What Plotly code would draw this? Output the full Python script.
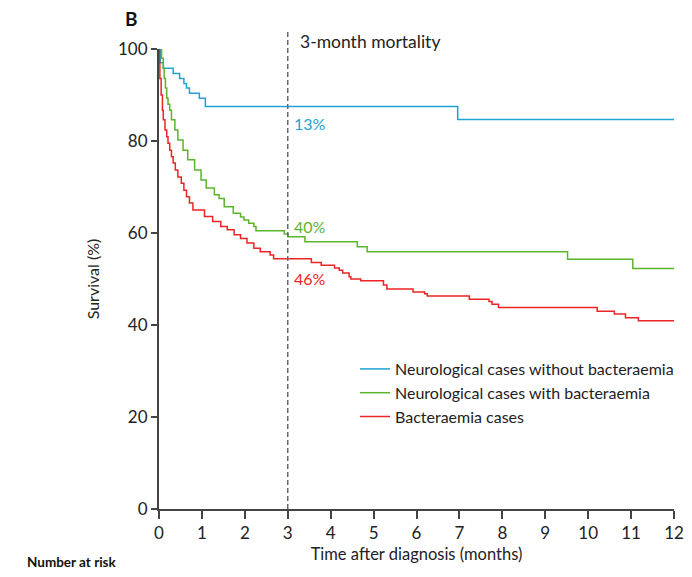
import plotly.graph_objects as go

# ---- data ----
blue_t = [0, 0.03, 0.10, 0.33, 0.48, 0.58, 0.64, 0.71, 0.94, 1.08, 6.96, 12]
blue_s = [100, 97.0, 95.8, 94.7, 93.6, 92.5, 91.5, 90.4, 89.3, 87.5, 84.7, 84.7]

green_t = [0, 0.06, 0.10, 0.12, 0.15, 0.18, 0.21, 0.25, 0.29, 0.37, 0.44, 0.56, 0.67,
           0.83, 0.98, 1.10, 1.29, 1.40, 1.52, 1.73, 1.90, 1.98, 2.09, 2.21, 2.26,
           2.92, 3.01, 3.40, 4.62, 4.85, 9.52, 11.04, 12]
green_s = [100, 98.0, 95.8, 93.6, 91.5, 89.3, 88.0, 86.7, 84.6, 82.4, 80.2, 78.0, 75.9,
           73.7, 71.5, 69.8, 68.3, 67.5, 65.7, 64.3, 63.5, 62.8, 62.1, 61.4, 60.5,
           59.8, 59.2, 58.1, 57.0, 55.9, 54.3, 52.3, 52.3]

red_t = [0, 0.01, 0.02, 0.05, 0.08, 0.10, 0.14, 0.18, 0.21, 0.25, 0.29, 0.33, 0.38,
         0.44, 0.52, 0.58, 0.64, 0.71, 0.79, 1.06, 1.25, 1.44, 1.59, 1.75, 1.90,
         2.05, 2.21, 2.36, 2.59, 2.67, 3.55, 3.78, 4.09, 4.20, 4.28, 4.43, 4.47,
         4.70, 5.23, 5.31, 5.92, 6.19, 6.25, 7.23, 7.69, 7.76, 7.91, 10.21, 10.61,
         10.87, 11.17, 12]
red_s = [100, 97.0, 93.6, 90.0, 86.7, 84.6, 82.4, 80.9, 79.5, 78.0, 76.6, 75.2, 73.7,
         72.2, 70.8, 69.3, 67.9, 66.5, 65.0, 63.6, 62.5, 61.4, 60.7, 59.6, 58.8,
         57.8, 56.7, 55.9, 55.2, 54.4, 53.6, 53.0, 52.4, 51.9, 51.3, 50.5, 50.0,
         49.6, 48.7, 47.8, 47.2, 46.8, 46.3, 45.6, 45.1, 44.5, 43.8, 43.0, 42.4,
         41.6, 40.9, 40.9]

series_names = ["Neurological cases without bacteraemia",
                "Neurological cases with bacteraemia",
                "Bacteraemia cases"]
series_colors = ["#22a2d4", "#5bb52b", "#ee2424"]
mortality_labels = ["13%", "40%", "46%"]
mortality_label_y = [83.9, 61.5, 50.2]

x_ticks = list(range(0, 13))
y_ticks = [0, 20, 40, 60, 80, 100]

FONT = "Lato"

# page body has an 8px default margin; the visible width ends near x=684
PW, PH = 515, 460          # plot area in pixels
PX0, PY1 = 159, 509        # window pixel of plot left / bottom
FIG_W, FIG_H = 684, 561


def px_x(wx):
    return (wx - PX0) / PW


def px_y(wy):
    return (PY1 - wy) / PH


fig = go.Figure()
for t, s, name, col in zip([blue_t, green_t, red_t], [blue_s, green_s, red_s],
                           series_names, series_colors):
    fig.add_trace(go.Scatter(x=t, y=s, mode="lines", name=name,
                             line=dict(color=col, width=1.5, shape="hv")))

# 3-month dashed line
fig.add_shape(type="line", xref="paper", yref="paper",
              x0=3 / 12, x1=3 / 12, y0=0, y1=px_y(32),
              line=dict(color="#5d6b78", width=1.5, dash="5px,3px"))

fig.add_annotation(x=3.25, y=px_y(42), xref="x", yref="paper", text="3-month mortality",
                   showarrow=False, xanchor="left", yanchor="middle",
                   font=dict(family=FONT, size=17.5, color="#222"))

for lab, yv, col in zip(mortality_labels, mortality_label_y, series_colors):
    fig.add_annotation(x=3.1, y=yv, xref="x", yref="y", text=lab, showarrow=False,
                       xanchor="left", yanchor="middle",
                       font=dict(family=FONT, size=16, color=col))

fig.add_annotation(x=px_x(131), y=px_y(18), xref="paper", yref="paper", text="<b>B</b>",
                   showarrow=False, xanchor="center", yanchor="middle",
                   font=dict(family=FONT, size=19, color="#111"))

fig.add_annotation(x=px_x(25), y=px_y(562), xref="paper", yref="paper",
                   text="<b>Number at risk</b>", showarrow=False, xanchor="left",
                   yanchor="middle", font=dict(family=FONT, size=13.5, color="#111"))

fig.update_layout(
    width=FIG_W, height=FIG_H,
    margin=dict(l=PX0 - 8, r=FIG_W + 8 - (PX0 + PW), t=41, b=FIG_H + 8 - PY1,
                autoexpand=False),
    paper_bgcolor="white", plot_bgcolor="white",
    font=dict(family=FONT, color="#222"),
    showlegend=True,
    legend=dict(x=px_x(355), y=px_y(352), xanchor="left", yanchor="top",
                bgcolor="rgba(0,0,0,0)", font=dict(family=FONT, size=16, color="#222"),
                tracegroupgap=0),
    xaxis=dict(range=[0, 12], tickvals=x_ticks, ticktext=[str(v) for v in x_ticks],
               showgrid=False, zeroline=False, showline=True, linecolor="#444",
               linewidth=2, ticks="outside", ticklen=8, tickwidth=1.5, tickcolor="#444",
               automargin=False, ticklabeloverflow="allow",
               tickfont=dict(family=FONT, size=17, color="#222"),
               title=dict(text="Time after diagnosis (months)", standoff=6,
                          font=dict(family=FONT, size=16.5, color="#222"))),
    yaxis=dict(range=[0, 100], tickvals=y_ticks, ticktext=[str(v) for v in y_ticks],
               showgrid=False, zeroline=False, showline=True, linecolor="#444",
               linewidth=2, ticks="outside", ticklen=6, tickwidth=1.5, tickcolor="#444",
               automargin=False,
               tickfont=dict(family=FONT, size=17, color="#222"),
               title=dict(text="Survival (%)", standoff=14,
                          font=dict(family=FONT, size=16, color="#222"))),
)

fig.write_html("out.html")
